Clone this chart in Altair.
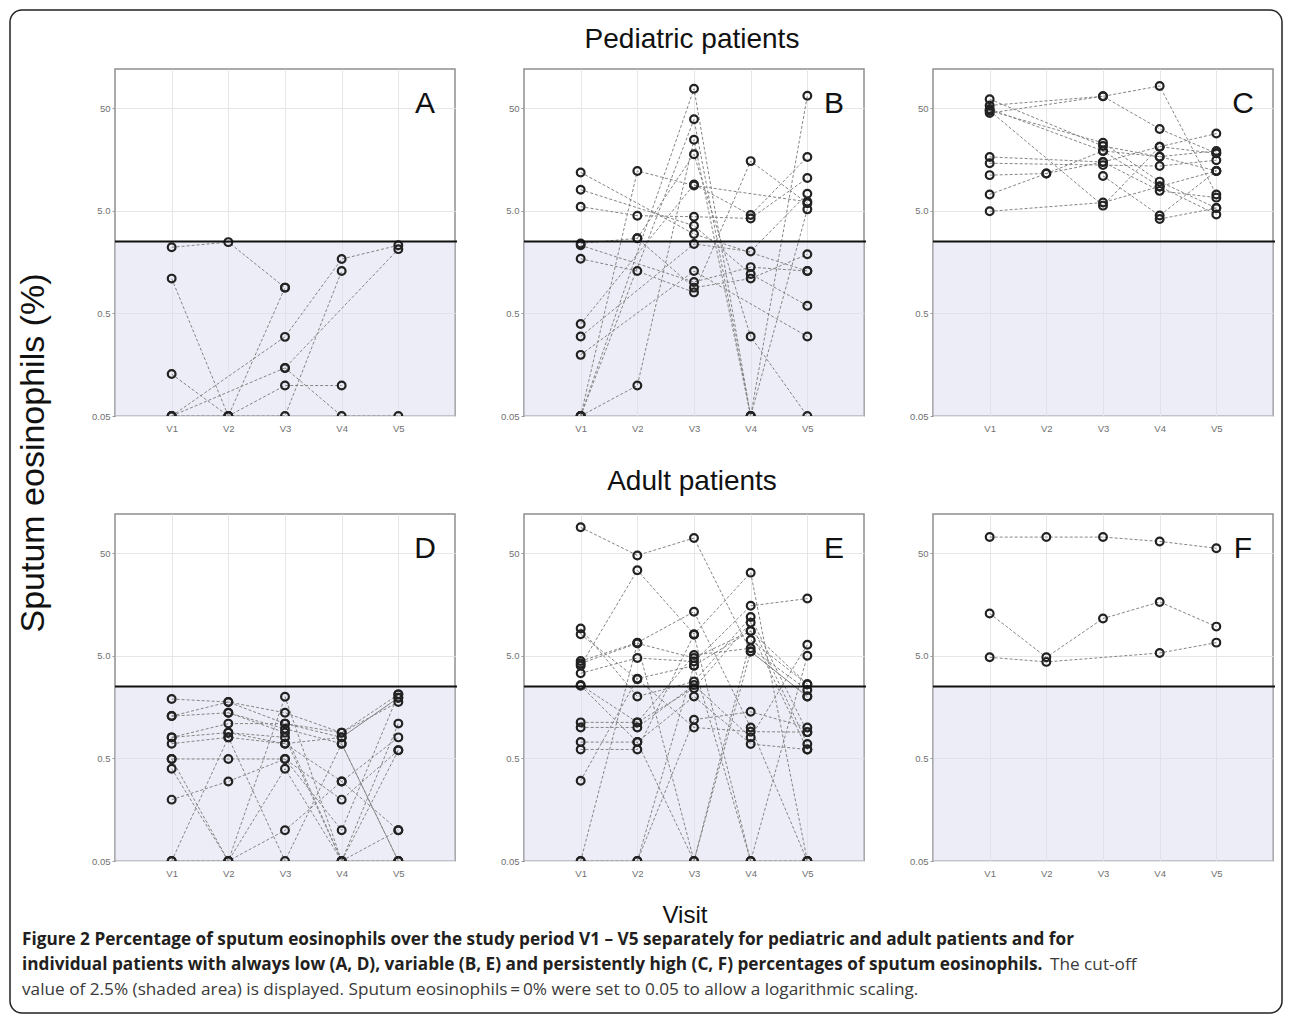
import altair as alt
import pandas as pd

N = None
VISITS = [1, 2, 3, 4, 5]
VISIT_LABELS = ["V1", "V2", "V3", "V4", "V5"]
Y_TICKS = [0.05, 0.5, 5, 50]
CUTOFF = 2.5

# sputum eosinophils (%) per patient, visits V1..V5 (None = no sample)
panel_A = [
    [2.2, 2.47, 0.89, N, N],
    [1.09, 0.05, 0.89, N, N],
    [0.128, 0.05, 0.099, 0.099, N],
    [0.05, N, 0.295, 1.69, 2.3],
    [0.05, N, 0.147, N, 2.11],
    [0.05, 0.05, 0.05, 1.29, N],
    [N, N, 0.147, 0.05, 0.05],
]
panel_B = [
    [11.8, N, 2.96, N, 1.29],
    [8.0, N, 3.57, 1.21, 0.593],
    [5.47, 4.47, 4.37, 4.2, 10.4],
    [2.4, 2.69, 0.89, 1.09, 1.88],
    [2.3, N, 1.01, 1.41, 1.29],
    [1.70, 1.29, 0.80, 15.2, 5.9],
    [0.394, N, 9.0, 4.54, 16.7],
    [0.297, N, 2.37, 2.0, 7.3],
    [0.197, N, 1.29, N, 0.297],
    [0.05, 12.2, 8.8, N, 6.1],
    [0.05, 0.099, 24.6, 0.05, 5.15],
    [0.05, N, 77, 0.05, 66],
    [0.05, N, 38.8, 0.05, N],
    [N, 2.69, 17.7, 0.297, 0.05],
]
panel_C = [
    [44.7, N, 65, 82, 7.2],
    [53, N, 65, 31.3, 18.1],
    [47, N, 22.9, 9.6, 5.3],
    [61, N, 21.3, 16.8, 19.1],
    [49, N, 19.1, 8.6, 4.6],
    [47, N, 5.6, 21.0, 28.2],
    [16.7, N, 14.9, 7.8, 6.7],
    [14.5, N, 13.9, 13.6, 15.5],
    [11.1, 11.5, 14.9, 21.0, 18.1],
    [7.2, 11.5, 19.1, 16.8, 12.2],
    [4.93, N, 6.0, 8.6, 12.2],
    [N, N, 10.9, 4.48, 12.2],
    [N, N, N, 4.15, 5.3],
]
panel_D = [
    [1.89, 1.77, 1.39, 0.89, 2.10],
    [1.29, 1.77, 1.09, 0.80, 1.95],
    [1.29, 1.39, 0.97, 0.695, 0.05],
    [0.80, 1.09, 1.09, 0.89, 1.77],
    [0.80, 0.89, 0.80, 0.05, 1.09],
    [0.695, 0.80, 0.695, 0.298, 0.80],
    [0.493, 0.493, 0.493, 0.198, 0.60],
    [0.396, 0.05, 0.396, 0.05, 0.0995],
    [0.198, 0.298, 0.493, 0.0995, 2.10],
    [0.05, 0.80, 0.05, 0.695, 0.05],
    [0.05, 0.05, 1.99, 0.05, 0.60],
    [0.493, 0.05, 0.0995, 0.298, 0.0995],
    [N, 1.39, 0.89, 0.05, 0.05],
    [N, 0.89, 0.695, 0.80, 1.95],
]
panel_E = [
    [89, 47.4, 70, 5.5, 2.0],
    [9.2, 2.0, 2.8, 11.9, 0.90],
    [8.1, 2.95, 1.0, 0.91, 0.90],
    [4.43, 6.7, 13.4, 1.0, 0.05],
    [4.2, 6.6, 4.75, 8.7, 2.64],
    [4.0, 34, 8.1, 32.2, 0.05],
    [3.37, 4.75, 4.38, 15.3, 18.0],
    [2.59, 1.12, 2.41, 10.5, 0.69],
    [2.55, 0.72, 0.05, 7.1, 2.64],
    [1.12, 1.12, 5.07, 5.9, 2.32],
    [1.0, 1.0, 2.59, 0.80, 6.4],
    [0.72, 0.72, 2.0, 0.69, 0.61],
    [0.61, 0.61, 8.0, 0.05, 5.0],
    [0.303, 2.99, 4.0, 8.7, 0.61],
    [0.05, 0.05, 1.19, 1.42, 1.0],
    [0.05, 6.6, 0.05, 5.5, 2.0],
    [N, 0.05, 4.0, 0.05, 0.05],
]
panel_F = [
    [71.5, 71.5, 71.5, 64.9, 55.7],
    [12.9, 4.82, 11.5, 16.7, 9.6],
    [4.82, 4.35, N, 5.31, 6.7],
]

PANELS = [panel_A, panel_B, panel_C, panel_D, panel_E, panel_F]
LETTERS = ["A", "B", "C", "D", "E", "F"]

TITLE_TOP = "Pediatric patients"
TITLE_BOTTOM = "Adult patients"
Y_TITLE = "Sputum eosinophils (%)"
X_TITLE = "Visit"
CAP1 = ("Figure 2 Percentage of sputum eosinophils over the study period V1 \u2013 V5 "
        "separately for pediatric and adult patients and for")
CAP2_BOLD = ("individual patients with always low (A, D), variable (B, E) and persistently "
             "high (C, F) percentages of sputum eosinophils.")
CAP2_REG = "The cut-off"
CAP3 = ("value of 2.5% (shaded area) is displayed. Sputum eosinophils\u2009=\u20090% were set "
        "to 0.05 to allow a logarithmic scaling.")

W, H = 340, 347
FONT = "Liberation Sans"
CAP_FONT = "Open Sans"
CAP_SIZE = 17.2
one = pd.DataFrame({"k": [0]})

x_scale = alt.Scale(domain=[0, 6], nice=False, zero=False)
y_scale = alt.Scale(type="log", domain=[0.05, 120], nice=False)
x_axis = alt.Axis(values=VISITS, labelExpr="'V' + datum.value", title=None, grid=True,
                  ticks=False, domain=False, labelPadding=7)
y_axis = alt.Axis(values=Y_TICKS, labelExpr="datum.value == 5 ? '5.0' : toString(datum.value)",
                  title=None, grid=True, ticks=True, tickSize=3, domain=False, labelPadding=2)


def text_layer(txt, x, y, size, **kw):
    return alt.Chart(one).mark_text(fontSize=size, font=kw.pop("font", FONT), **kw).encode(
        x=alt.value(x), y=alt.value(y), text=alt.value(txt))


def panel(rows, letter, extras):
    recs = []
    for i, r in enumerate(rows):
        for j, v in enumerate(r):
            if v is not None:
                recs.append({"patient": i, "visit": VISITS[j], "value": v})
    df = pd.DataFrame(recs)
    base = alt.Chart(df)
    shade = alt.Chart(one).mark_rect(color="#dcdcf0", opacity=0.5).encode(
        x=alt.value(0), x2=alt.value(W),
        y=alt.Y(datum=CUTOFF, scale=y_scale, axis=y_axis),
        y2=alt.Y2(datum=0.05))
    lines = base.mark_line(color="#858585", strokeWidth=1, strokeDash=[3, 2], clip=True).encode(
        x=alt.X("visit:Q", scale=x_scale, axis=x_axis),
        y=alt.Y("value:Q", scale=y_scale, axis=y_axis),
        detail="patient:N")
    pts = base.mark_point(shape="circle", filled=False, color="#222222", strokeWidth=2.2,
                          size=60, opacity=1, clip=True).encode(
        x=alt.X("visit:Q", scale=x_scale, axis=x_axis),
        y=alt.Y("value:Q", scale=y_scale, axis=y_axis))
    rule = alt.Chart(one).mark_rule(color="#111111", strokeWidth=2).encode(
        x=alt.value(0), x2=alt.value(W + 2),
        y=alt.Y(datum=CUTOFF, scale=y_scale, axis=y_axis))
    lab = text_layer(letter, 310, 44, 30, align="center", baseline="alphabetic", color="#111")
    return alt.layer(shade, lines, pts, rule, lab, *extras).properties(width=W, height=H)


extras = {
    "A": [
        alt.Chart(one).mark_rect(fillOpacity=0, stroke="#222222", strokeWidth=1.5,
                                 cornerRadius=12).encode(
            x=alt.value(-105), x2=alt.value(1167), y=alt.value(-59), y2=alt.value(944)),
        text_layer(Y_TITLE, -81, 384, 34, angle=270, align="center", baseline="middle",
                   color="#111"),
    ],
    "B": [text_layer(TITLE_TOP, 168, -21, 28, align="center", baseline="alphabetic",
                     color="#111")],
    "C": [],
    "D": [
        text_layer(CAP1, -93, 426, CAP_SIZE, font=CAP_FONT, fontWeight="bold", align="left",
                   baseline="middle", color="#231f20"),
        text_layer(CAP2_BOLD, -93, 451, CAP_SIZE, font=CAP_FONT, fontWeight="bold",
                   align="left", baseline="middle", color="#231f20"),
        text_layer(CAP2_REG, 935, 451, CAP_SIZE, font=CAP_FONT, align="left",
                   baseline="middle", color="#3a3a3a"),
        text_layer(CAP3, -93, 476, CAP_SIZE, font=CAP_FONT, align="left",
                   baseline="middle", color="#3a3a3a"),
    ],
    "E": [
        text_layer(TITLE_BOTTOM, 168, -24, 28, align="center", baseline="alphabetic",
                   color="#111"),
        text_layer(X_TITLE, 161, 409, 24, align="center", baseline="alphabetic",
                   color="#111"),
    ],
    "F": [],
}

charts = [panel(rows, L, extras[L]) for rows, L in zip(PANELS, LETTERS)]

chart = alt.concat(*charts, columns=3, spacing={"row": 98, "column": 69},
                   bounds="flush").properties(padding=0).configure_view(
    stroke="#8f8f8f", strokeWidth=1.5).configure_axis(
    labelFont=FONT, labelFontSize=9.5, labelColor="#707070", gridColor="#e6e6e6",
    gridWidth=1, tickColor="#999999")

chart.save("out.html", embed_options={"renderer": "svg", "actions": False})
